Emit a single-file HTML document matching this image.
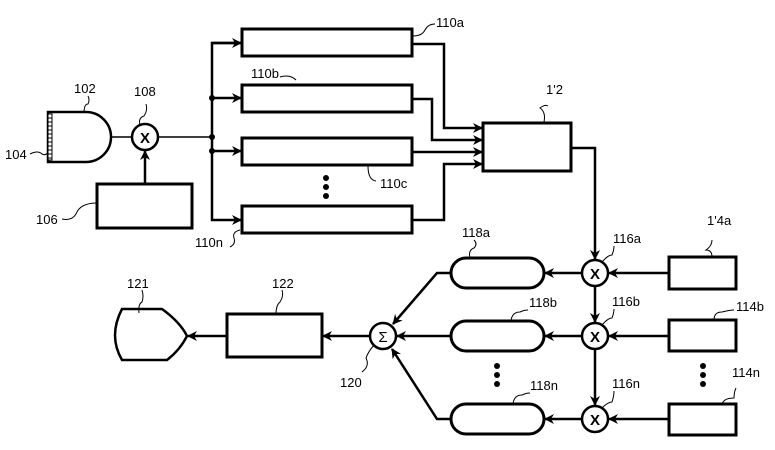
<!DOCTYPE html>
<html><head><meta charset="utf-8"><style>
html,body{margin:0;padding:0;background:#fff;}
svg{display:block;}
text{font-family:"Liberation Sans Narrow","Liberation Sans",sans-serif;font-size:13px;fill:#000;}
</style></head><body>
<svg width="775" height="450" viewBox="0 0 775 450" xmlns="http://www.w3.org/2000/svg">
<defs>
<marker id="ar" markerWidth="10" markerHeight="10" refX="9" refY="5" orient="auto" markerUnits="userSpaceOnUse">
<path d="M0,0 L10,5 L0,10 L3,5 Z" fill="#000"/>
</marker>
</defs>
<g fill="none" stroke="#000" stroke-width="3">
<rect x="242" y="29" width="170" height="27"/>
<rect x="242" y="85" width="170" height="27"/>
<rect x="242" y="138" width="170" height="27"/>
<rect x="242" y="206" width="170" height="27"/>
<rect x="97" y="184" width="95" height="44"/>
<rect x="483" y="123" width="88" height="48"/>
<rect x="669" y="257" width="67" height="32"/>
<rect x="669" y="320" width="67" height="31"/>
<rect x="669" y="404" width="67" height="31"/>
<rect x="451" y="258" width="93" height="30" rx="15"/>
<rect x="451" y="321" width="93" height="30" rx="15"/>
<rect x="451" y="404" width="93" height="30" rx="15"/>
<rect x="227" y="314" width="95" height="43"/>
<path d="M48,112 L86,112 A25,25 0 0 1 86,162 L48,162 Z" stroke-width="2.5"/>
<path d="M122,309 L162,309 Q180,322 187,336 Q180,350 167,360 L122,360 Q108,336 122,309 Z" stroke-width="2.5"/>
</g>
<g stroke="#000" stroke-width="1">
<rect x="48" y="114" width="4" height="46" fill="#fff"/>
<path d="M48,118h4M48,122h4M48,126h4M48,130h4M48,134h4M48,138h4M48,142h4M48,146h4M48,150h4M48,154h4M48,158h4"/>
</g>
<g fill="none" stroke="#000" stroke-width="1.5">
<line x1="111" y1="137" x2="132" y2="137"/>
<line x1="158" y1="137" x2="212" y2="137"/>
</g>
<g fill="none" stroke="#000" stroke-width="2.5">
<line x1="145" y1="184" x2="145" y2="151" marker-end="url(#ar)"/>
<path d="M242,43 L212,43 L212,220 L241,220" marker-end="url(#ar)"/>
<line x1="212" y1="43" x2="241" y2="43" marker-end="url(#ar)"/>
<line x1="212" y1="98" x2="241" y2="98" marker-end="url(#ar)"/>
<line x1="212" y1="151" x2="241" y2="151" marker-end="url(#ar)"/>
<path d="M412,44 L444,44 L444,128 L482,128" marker-end="url(#ar)"/>
<path d="M412,99 L432,99 L432,140 L482,140" marker-end="url(#ar)"/>
<path d="M412,152 L482,152" marker-end="url(#ar)"/>
<path d="M412,220 L444,220 L444,164 L482,164" marker-end="url(#ar)"/>
<path d="M571,148 L595,148 L595,259" marker-end="url(#ar)"/>
<line x1="595" y1="286" x2="595" y2="322" marker-end="url(#ar)"/>
<line x1="595" y1="349" x2="595" y2="405" marker-end="url(#ar)"/>
<line x1="669" y1="273" x2="609" y2="273" marker-end="url(#ar)"/>
<line x1="669" y1="336" x2="609" y2="336" marker-end="url(#ar)"/>
<line x1="669" y1="419" x2="609" y2="419" marker-end="url(#ar)"/>
<line x1="582" y1="273" x2="545" y2="273" marker-end="url(#ar)"/>
<line x1="582" y1="336" x2="545" y2="336" marker-end="url(#ar)"/>
<line x1="582" y1="419" x2="545" y2="419" marker-end="url(#ar)"/>
<line x1="451" y1="336" x2="397" y2="336" marker-end="url(#ar)"/>
<path d="M451,273 L437,273 L393,324" marker-end="url(#ar)"/>
<path d="M451,419 L437,419 L392,349" marker-end="url(#ar)"/>
<line x1="370" y1="336" x2="323" y2="336" marker-end="url(#ar)"/>
<line x1="227" y1="336" x2="188" y2="336" marker-end="url(#ar)"/>
</g>
<g fill="#000">
<circle cx="212" cy="98" r="3"/><circle cx="212" cy="137" r="3"/><circle cx="212" cy="151" r="3"/>
<circle cx="326" cy="178" r="3"/><circle cx="326" cy="187" r="3"/><circle cx="326" cy="196" r="3"/>
<circle cx="497" cy="366" r="3"/><circle cx="497" cy="375" r="3"/><circle cx="497" cy="384" r="3"/>
<circle cx="703" cy="366" r="3"/><circle cx="703" cy="375" r="3"/><circle cx="703" cy="384" r="3"/>
</g>
<g fill="#fff" stroke="#000" stroke-width="2.5">
<circle cx="145" cy="137" r="13"/>
<circle cx="595" cy="273" r="13"/>
<circle cx="595" cy="336" r="13"/>
<circle cx="595" cy="419" r="13"/>
<circle cx="383" cy="336" r="13"/>
</g>
<g text-anchor="middle" style="font-family:'Liberation Sans',sans-serif;font-weight:bold">
<text x="145" y="143" style="font-size:15px">X</text>
<text x="595" y="279" style="font-size:15px">X</text>
<text x="595" y="342" style="font-size:15px">X</text>
<text x="595" y="425" style="font-size:15px">X</text>
<text x="383" y="342" style="font-size:15px;font-weight:normal">Σ</text>
</g>
<g fill="none" stroke="#000" stroke-width="1">
<path d="M84,113 Q84,104 88,104 Q90,100 88,96"/>
<path d="M140,125 Q138,118 144,116 Q148,110 146,104"/>
<path d="M30,154 Q38,150 42,154 Q46,156 48,152"/>
<path d="M62,219 Q72,221 76,214 Q80,203 97,203"/>
<path d="M413,36 Q422,36 425,30 Q428,24 435,24"/>
<path d="M280,77 Q290,74 296,80"/>
<path d="M368,166 Q368,180 376,181"/>
<path d="M240,230 Q232,232 234,238 Q236,244 230,247"/>
<path d="M544,122 Q546,112 540,108 Q545,104 548,106"/>
<path d="M470,258 Q468,250 474,248 Q478,244 474,240"/>
<path d="M602,262 Q608,255 612,255 Q614,250 614,246"/>
<path d="M602,325 Q608,318 612,318 Q614,313 614,309"/>
<path d="M602,408 Q608,402 612,402 Q614,396 614,391"/>
<path d="M712,257 Q712,250 706,250 Q712,246 712,240"/>
<path d="M714,320 Q714,312 722,312 Q730,310 734,310"/>
<path d="M722,404 Q724,398 734,398 Q734,392 736,388"/>
<path d="M511,321 Q512,312 520,312 Q524,310 528,310"/>
<path d="M513,404 Q514,395 522,395 Q526,393 530,393"/>
<path d="M374,345 Q368,352 366,358 Q370,366 362,372"/>
<path d="M139,313 Q138,304 142,302 Q144,296 142,290"/>
<path d="M276,314 Q276,305 280,302 Q284,296 282,290"/>
</g>
<g>
<text x="74" y="93">102</text>
<text x="134" y="96">108</text>
<text x="5" y="159">104</text>
<text x="36" y="224">106</text>
<text x="436" y="27">110a</text>
<text x="251" y="78">110b</text>
<text x="380" y="188">110c</text>
<text x="195" y="247">110n</text>
<text x="546" y="94">1'2</text>
<text x="462" y="237">118a</text>
<text x="613" y="243">116a</text>
<text x="707" y="225">1'4a</text>
<text x="529" y="307">118b</text>
<text x="612" y="306">116b</text>
<text x="736" y="311">114b</text>
<text x="732" y="377">114n</text>
<text x="530" y="390">118n</text>
<text x="612" y="388">116n</text>
<text x="340" y="387">120</text>
<text x="127" y="288">121</text>
<text x="272" y="288">122</text>
</g>
</svg>
</body></html>
